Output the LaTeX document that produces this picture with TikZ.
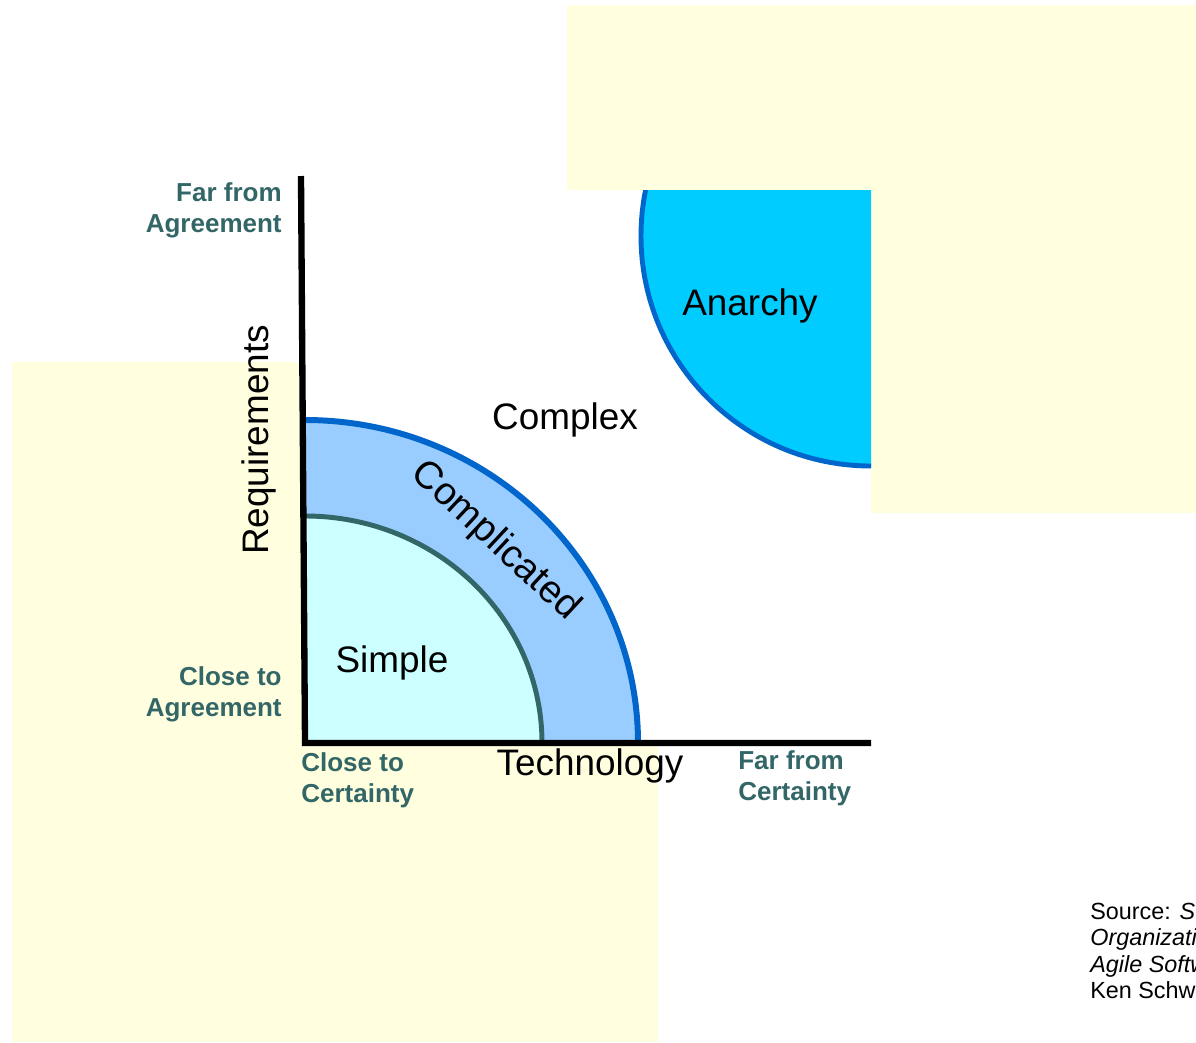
\documentclass[tikz,border=0pt]{standalone}
\usepackage{fontspec}
\setmainfont{Liberation Sans}

\definecolor{paleyellow}{HTML}{FFFFE0}
\definecolor{endteal}{HTML}{336666}
\definecolor{bandblue}{HTML}{99CCFF}
\definecolor{edgeblue}{HTML}{0066CC}
\definecolor{paleaqua}{HTML}{CCFFFF}
\definecolor{anarchyblue}{HTML}{00CCFF}

\begin{document}
\begin{tikzpicture}[x=0.02cm, y=-0.02cm,
    endlabel/.style={text=endteal, inner sep=0pt, font=\fontsize{14.8}{17.6}\selectfont\bfseries},
    zonelabel/.style={inner sep=0pt, font=\fontsize{21}{25}\selectfont},
    axisline/.style={black, line width=3.6pt}]
\useasboundingbox (0,0) rectangle (1196,1042);
\clip (0,0) rectangle (1196,1042);
\fill[white] (0,0) rectangle (1196,1042);

% background panels
\fill[paleyellow] (567,5) rectangle (1196,513);
\fill[paleyellow] (12,362) rectangle (658,1042);
\fill[white] (305,190) rectangle (871,743);

% anarchy corner, cut by the plot area
\begin{scope}
    \clip (305,190) rectangle (871,743);
    \filldraw[fill=anarchyblue, draw=edgeblue, line width=2.8pt] (871,236) circle[radius=230];
\end{scope}

% complicated band
\fill[bandblue] (305,743) -- (305,420) arc[start angle=-90, end angle=0, x radius=333, y radius=323] -- cycle;
\draw[edgeblue, line width=3.4pt] (305,420) arc[start angle=-90, end angle=0, x radius=333, y radius=323];

% simple zone
\fill[paleaqua] (305,743) -- (305,516) arc[start angle=-90, end angle=0, x radius=237, y radius=227] -- cycle;
\draw[endteal, line width=2.8pt] (305,516) arc[start angle=-90, end angle=0, x radius=237, y radius=227];

% axes
\draw[axisline] (301,176) -- (305,743) -- (871,743);

% ends of the axes
\node[endlabel, anchor=east, align=right] (farAgree) at (282,210) {Far from\\Agreement};
\node[endlabel, anchor=east, align=right] (closeAgree) at (282,694) {Close to\\Agreement};
\node[endlabel, anchor=west, align=left] (closeCert) at (301,780) {Close to\\Certainty};
\node[endlabel, anchor=west, align=left] (farCert) at (738,778) {Far from\\Certainty};

% axis titles
\node[zonelabel, anchor=base] (techAxis) at (590,775) {Technology};
\node[zonelabel, anchor=base, rotate=90] (reqAxis) at (268,440) {Requirements};

% zones
\node[zonelabel, anchor=base] (simple) at (392,672) {Simple};
\node[zonelabel, font=\fontsize{22}{26}\selectfont, rotate=-43] (complicated) at (495,541) {Complicated};
\node[zonelabel, anchor=base] (complex) at (565,429) {Complex};
\node[zonelabel, anchor=base] (anarchy) at (750,315) {Anarchy};

% source note
\node[inner sep=0pt, anchor=north west, align=left, font=\fontsize{13.3}{15.1}\selectfont] (source) at (1090,902)
    {Source: \textit{Strategic Management and}\\
     \textit{Organizational Dynamics},\\
     \textit{Agile Software Development with Scrum},\\
     Ken Schwaber};
\end{tikzpicture}
\end{document}
